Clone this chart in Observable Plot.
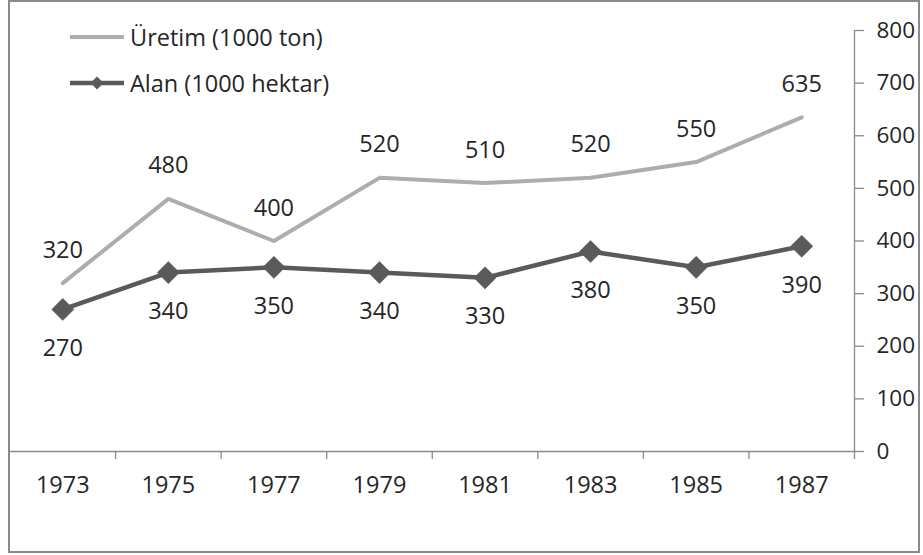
<!DOCTYPE html>
<html>
<head>
<meta charset="utf-8">
<script src="https://cdn.jsdelivr.net/npm/d3@7"></script>
<script src="https://cdn.jsdelivr.net/npm/@observablehq/plot@0.6"></script>
<style>
  body { margin: 0; background: #fff; font-family: "Open Sans", sans-serif; }
  #wrap { position: relative; width: 923px; height: 555px; overflow: hidden; }
  #chart { position: absolute; left: 0; top: 0; }
  #border { position: absolute; left: 8px; top: 0px; width: 908px; height: 549px; border: 2.5px solid #8a8a8a; pointer-events: none; }
  #legend { position: absolute; left: 70px; top: 14px; font-size: 23.5px; color: #262626; }
  .row { display: flex; align-items: center; height: 46px; }
  .row svg { margin-right: 4px; }
</style>
</head>
<body>
<div id="wrap">
  <div id="chart"></div>
  <div id="border"></div>
  <div id="legend"></div>
</div>
<script>
const years = [1973, 1975, 1977, 1979, 1981, 1983, 1985, 1987];
const uretim = [320, 480, 400, 520, 510, 520, 550, 635];
const alan = [270, 340, 350, 340, 330, 380, 350, 390];
const yTicks = [0, 100, 200, 300, 400, 500, 600, 700, 800];
const xBoundaryTicks = [1974, 1976, 1978, 1980, 1982, 1984, 1986, 1988];
const seriesNames = ["Üretim (1000 ton)", "Alan (1000 hektar)"];
const colors = ["#adadad", "#5a5a5a"];

const uData = years.map((y, i) => ({year: y, value: uretim[i]}));
const aData = years.map((y, i) => ({year: y, value: alan[i]}));

const textColor = "#262626";
const axisColor = "#8a8a8a";
const font = "Open Sans, sans-serif";
const fs = 23.5;

const chart = Plot.plot({
  width: 923,
  height: 555,
  marginLeft: 9.5,
  marginRight: 69,
  marginTop: 30,
  marginBottom: 104,
  style: { fontFamily: font, fontSize: fs + "px", color: textColor, background: "transparent" },
  x: { type: "linear", domain: [1972, 1988], label: null },
  y: { domain: [0, 800], label: null },
  marks: [
    Plot.ruleY([0], { stroke: axisColor, strokeWidth: 1.3 }),
    Plot.ruleX([1988], { y1: 0, y2: 800, stroke: axisColor, strokeWidth: 1.3 }),
    Plot.axisX({ ticks: xBoundaryTicks, tickFormat: () => "", tickSize: 8, stroke: axisColor, strokeWidth: 1.3, label: null }),
    Plot.axisX({ ticks: years, tickFormat: d => String(d), tickSize: 0, tickPadding: 25, fill: textColor, fontSize: fs, label: null }),
    Plot.axisY({ anchor: "right", ticks: yTicks, tickSize: 9, tickPadding: 13, label: null, stroke: axisColor, strokeWidth: 1.3, fill: textColor, fontSize: 22.5 }),
    Plot.line(uData, { x: "year", y: "value", stroke: colors[0], strokeWidth: 4 }),
    Plot.line(aData, { x: "year", y: "value", stroke: colors[1], strokeWidth: 4.5 }),
    Plot.dot(aData, { x: "year", y: "value", symbol: "diamond2", r: 10, fill: colors[1], stroke: colors[1], strokeWidth: 0.5 }),
    Plot.text(uData, { x: "year", y: "value", text: d => String(d.value), dy: -33, fill: textColor, fontSize: fs }),
    Plot.text(aData, { x: "year", y: "value", text: d => String(d.value), dy: 39, fill: textColor, fontSize: fs })
  ]
});
document.getElementById("chart").appendChild(chart);

const legend = document.getElementById("legend");
legend.innerHTML = `
  <div class="row"><svg width="56" height="14"><line x1="0" y1="7" x2="54" y2="7" stroke="${colors[0]}" stroke-width="4"/></svg><span>${seriesNames[0]}</span></div>
  <div class="row"><svg width="56" height="16"><line x1="0" y1="8" x2="54" y2="8" stroke="${colors[1]}" stroke-width="4.5"/><path d="M27,1.5 L33.5,8 L27,14.5 L20.5,8 Z" fill="${colors[1]}"/></svg><span>${seriesNames[1]}</span></div>
`;
</script>
</body>
</html>
